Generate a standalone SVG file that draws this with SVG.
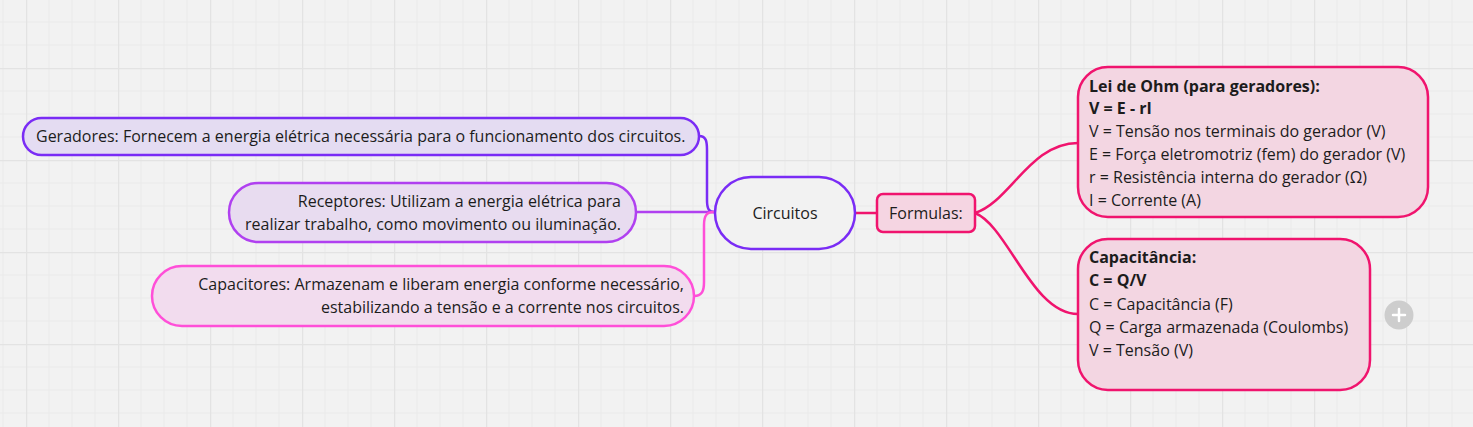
<svg xmlns="http://www.w3.org/2000/svg" width="1473" height="427" viewBox="0 0 1473 427">
<defs>
<pattern id="grid" patternUnits="userSpaceOnUse" x="26" y="68" width="92" height="92">
<rect width="92" height="92" fill="#f2f2f2"/>
<path d="M23,0V92M46,0V92M69,0V92M0,23H92M0,46H92M0,69H92" stroke="#eaeaea" stroke-width="1" fill="none"/>
<path d="M0.5,0V92M0,0.5H92" stroke="#e3e3e3" stroke-width="1.5" fill="none"/>
</pattern>
<style>
text{font-family:"Open Sans","Noto Sans","DejaVu Sans",sans-serif;font-size:16px;fill:#1c1c1c}
.b{font-weight:bold}
.r{text-anchor:end}
.m{text-anchor:middle}
.node{stroke-width:2.5}
.conn{fill:none;stroke-width:2.5;stroke-linecap:round}
</style>
</defs>
<rect width="1473" height="427" fill="url(#grid)"/>
<g id="connectors">
<path class="conn" stroke="#7a2cf5" d="M699,136 C706,136 707,141 707,150 L707,200 C707,209 709,212 714,212"/>
<path class="conn" stroke="#b040f0" d="M636,212 L714,212"/>
<path class="conn" stroke="#ff4fd8" d="M694,296 C702,296 704,291 704,282 L704,225 C704,215 707,212 714,212"/>
<path class="conn" stroke="#f0146e" d="M855,213 L877,213"/>
<path class="conn" stroke="#f0146e" d="M975,213 C1010,202 1030,143 1078,143"/>
<path class="conn" stroke="#f0146e" d="M975,213 C1008,226 1032,314 1078,314"/>
</g>
<g id="geradores">
<rect class="node" x="23" y="118" width="676" height="37" rx="18.5" fill="#e4dcf2" stroke="#7a2cf5"/>
<text x="36" y="142">Geradores: Fornecem a energia elétrica necessária para o funcionamento dos circuitos.</text>
</g>
<g id="receptores">
<rect class="node" x="229" y="183" width="407" height="59" rx="29.5" fill="#e8dcf0" stroke="#b040f0"/>
<text class="r" x="621" y="207">Receptores: Utilizam a energia elétrica para</text>
<text class="r" x="621" y="230">realizar trabalho, como movimento ou iluminação.</text>
</g>
<g id="capacitores">
<rect class="node" x="152" y="266" width="542" height="60" rx="30" fill="#f2dcee" stroke="#ff4fd8"/>
<text class="r" x="684" y="290">Capacitores: Armazenam e liberam energia conforme necessário,</text>
<text class="r" x="684" y="313">estabilizando a tensão e a corrente nos circuitos.</text>
</g>
<g id="circuitos">
<rect class="node" x="715" y="177" width="140" height="72" rx="36" fill="#f2f2f2" stroke="#7a2cf5"/>
<text class="m" x="785" y="219">Circuitos</text>
</g>
<g id="formulas">
<rect class="node" x="877" y="194" width="98" height="38" rx="6" fill="#f5d5e2" stroke="#f0146e"/>
<text x="889" y="219">Formulas:</text>
</g>
<g id="lei-de-ohm">
<rect class="node" x="1078" y="67" width="350" height="150" rx="30" fill="#f3d6e2" stroke="#f0146e"/>
<text class="b" x="1089" y="92">Lei de Ohm (para geradores):</text>
<text class="b" x="1089" y="114">V = E - rI</text>
<text x="1089" y="137">V = Tensão nos terminais do gerador (V)</text>
<text x="1089" y="160">E = Força eletromotriz (fem) do gerador (V)</text>
<text x="1089" y="183">r = Resistência interna do gerador (Ω)</text>
<text x="1089" y="206">I = Corrente (A)</text>
</g>
<g id="capacitancia">
<rect class="node" x="1078" y="239" width="292" height="151" rx="30" fill="#f3d6e2" stroke="#f0146e"/>
<text class="b" x="1089" y="263">Capacitância:</text>
<text class="b" x="1089" y="286">C = Q/V</text>
<text x="1089" y="310">C = Capacitância (F)</text>
<text x="1089" y="333">Q = Carga armazenada (Coulombs)</text>
<text x="1089" y="356">V = Tensão (V)</text>
</g>
<g id="add-button">
<circle cx="1399" cy="315" r="14.5" fill="#cdcdcd"/>
<path d="M1393,315H1405M1399,309V321" stroke="#ffffff" stroke-width="2.5" stroke-linecap="round"/>
</g>
</svg>
